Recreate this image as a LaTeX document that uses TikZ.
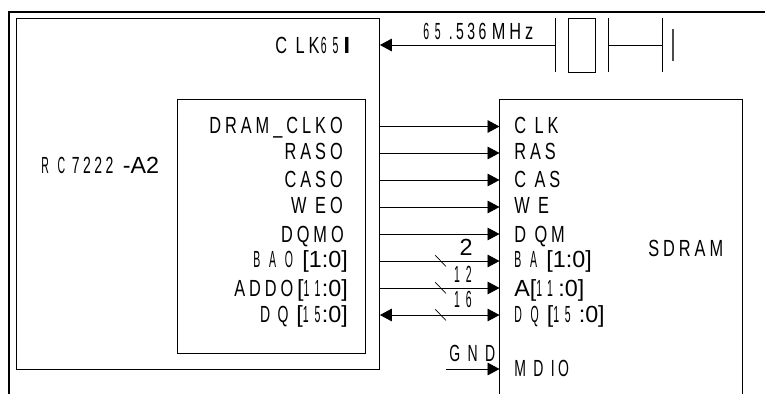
\documentclass[tikz,border=0pt]{standalone}
\usepackage{fontspec}
\usetikzlibrary{arrows.meta}
\newfontfamily\nfam{Liberation Sans}
\newfontfamily\cfam[FakeStretch=0.7,LetterSpace=17]{Liberation Sans}
\newfontfamily\dfam[FakeStretch=0.45,LetterSpace=25]{Liberation Sans}
\newfontfamily\efam[FakeStretch=0.6,LetterSpace=15]{Liberation Sans}
\newcommand{\nf}[1]{{\nfam #1}}
\newcommand{\cf}[1]{{\cfam #1}}
\newcommand{\df}[1]{{\dfam #1}}
\newcommand{\ef}[1]{{\efam #1}}
\tikzset{
  box/.style={draw=black,line width=0.7pt,inner sep=0pt,minimum width=#1},
  wire/.style={draw=black,line width=0.7pt},
  sig/.style={wire,-{Triangle[length=9pt,width=9.5pt]}},
  bidir/.style={wire,{Triangle[length=9pt,width=9.5pt]}-{Triangle[length=9pt,width=9.5pt]}},
  rl/.style={anchor=base east,inner sep=0pt,font=\fontsize{17.5pt}{19pt}\selectfont},
  ll/.style={anchor=base west,inner sep=0pt,font=\fontsize{17.5pt}{19pt}\selectfont},
  cl/.style={anchor=base,inner sep=0pt,font=\fontsize{17.5pt}{19pt}\selectfont},
}
\begin{document}
\begin{tikzpicture}[x=0.75pt,y=-0.75pt]
\useasboundingbox (0,0) rectangle (765,394);
% frame
\draw[line width=1.2pt] (9,394) -- (9,12) -- (765,12);
% boxes
\node[box=363.5*0.75pt,minimum height=351*0.75pt,anchor=north west] (rc) at (15.5,18) {};
\node[box=188.5*0.75pt,minimum height=254*0.75pt,anchor=north west] (mem) at (176.5,99) {};
\draw[wire] (499.5,394) -- (499.5,99) -- (742,99) -- (742,394);
% crystal
\node[box=27*0.75pt,minimum height=54*0.75pt,anchor=north west] (xtal) at (568,18) {};
\coordinate (p1t) at (555,18); \coordinate (p1b) at (555,72);
\coordinate (p2t) at (608.5,18); \coordinate (p2b) at (608.5,72);
\coordinate (p3t) at (662,18); \coordinate (p3b) at (662,72);
\coordinate (p4t) at (673,29); \coordinate (p4b) at (673,61);
\draw[wire] (p1t) -- (p1b);
\draw[wire] (p2t) -- (p2b);
\draw[wire] (p3t) -- (p3b);
\draw[wire,line width=1pt,draw=black!70] (p4t) -- (p4b);
\coordinate (p1m) at (555,45);
\coordinate (p2m) at (608.5,45);
\coordinate (p3m) at (662,45);
\draw[wire] (p2m) -- (p3m);
\draw[sig] (p1m) -- (rc.east |- p1m);
% signals
\foreach \n/\y in {1/126.5,2/153,3/180,4/207,5/234,6/261,7/288}{
  \coordinate (r\n) at (499.5,\y);
  \draw[sig] (rc.east |- r\n) -- (r\n);
}
\coordinate (r8) at (499.5,315);
\draw[bidir] (rc.east |- r8) -- (r8);
\coordinate (gs) at (446,369);
\coordinate (gnd) at (499.5,369);
\draw[sig] (gs) -- (gnd);
% bus slashes
\foreach \y in {261,288,315}{
  \draw[wire,line width=0.5pt] (435,\y-6) -- (446,\y+5.5);
}
% texts left
\node[ll] (t65) at (275,53) {\cf{C LK}\hspace{1pt}\df{65}\hspace{4pt}\nf{\bfseries I}};
\node[ll] (trc) at (41,173) {\df{R C}\hspace{5pt}\ef{7222}\hspace{7pt}\nf{-A2}};
\node[rl] (a1) at (343,133) {\cf{DRAM\_CLKO}};
\node[rl] (a2) at (343,159) {\cf{RASO}};
\node[rl] (a3) at (343,187) {\cf{CASO}};
\node[rl] (a4) at (343,213) {\cf{W EO}};
\node[rl] (a5) at (344,242) {\cf{DQMO}};
\node[rl] (a6) at (348,267) {\df{B A O}\hspace{7pt}\nf{[1:0]}};
\node[rl] (a7) at (348,296) {\cf{ADDO}\,\nf{[}\df{11}\hspace{1pt}\nf{:0]}};
\node[rl] (a8) at (348,322) {\ef{D Q}\hspace{6pt}\nf{[}\df{15}\hspace{1pt}\nf{:0]}};
% texts right
\node[ll] (b1) at (514,133) {\cf{C LK}};
\node[ll] (b2) at (514,159) {\cf{RAS}};
\node[ll] (b3) at (514,187) {\cf{C AS}};
\node[ll] (b4) at (514,213) {\cf{W E}};
\node[ll] (b5) at (514,242) {\cf{D QM}};
\node[ll] (b6) at (514,267) {\df{B A}\hspace{7pt}\nf{[1:0]}};
\node[ll] (b7) at (514,296) {\nf{A[}\df{11}\hspace{4pt}\nf{:0]}};
\node[ll] (b8) at (514,322) {\df{D Q}\hspace{6pt}\nf{[}\df{15}\hspace{6pt}\nf{:0]}};
\node[ll] (b9) at (514,376) {\ef{M D IO}};
\node[ll] (sdram) at (648,256) {\cf{SDRAM}};
\node[ll] (tgnd) at (449,361) {\ef{G N D}};
\node[cl] (n2) at (466,255) {\nf{2}};
\node[cl] (n12) at (463,282) {\df{12}};
\node[cl] (n16) at (463,307) {\df{16}};
\node[ll] (tmhz) at (423,39) {\df{65}\hspace{6pt}\ef{.536}\hspace{4pt}\cf{MHz}};
\end{tikzpicture}
\end{document}
